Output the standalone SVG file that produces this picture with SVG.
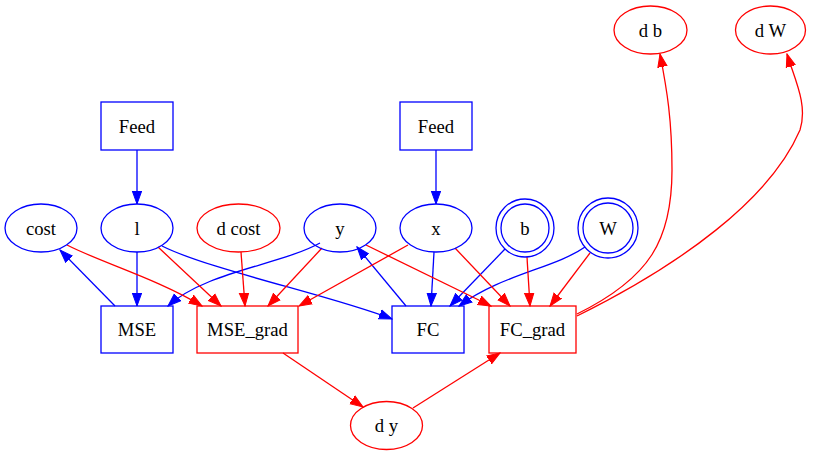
<svg xmlns="http://www.w3.org/2000/svg" width="813" height="455" viewBox="0 0 813 455">
<style>
text{font-family:"Liberation Serif","Times New Roman",serif;font-size:18.67px;fill:#000;text-anchor:middle}
.b{fill:none;stroke:#0000ff;stroke-width:1.3}
.r{fill:none;stroke:#ff0000;stroke-width:1.3}
.eb{fill:none;stroke:#0000ff;stroke-width:1.3;marker-end:url(#ab)}
.er{fill:none;stroke:#ff0000;stroke-width:1.3;marker-end:url(#ar)}
</style>
<defs>
<marker id="ab" markerUnits="userSpaceOnUse" markerWidth="14" markerHeight="12" viewBox="0 -6 14 12" refX="13" refY="0" orient="auto"><path d="M0,-4.7 L13,0 L0,4.7 z" fill="#0000ff" stroke="#0000ff"/></marker>
<marker id="ar" markerUnits="userSpaceOnUse" markerWidth="14" markerHeight="12" viewBox="0 -6 14 12" refX="13" refY="0" orient="auto"><path d="M0,-4.7 L13,0 L0,4.7 z" fill="#ff0000" stroke="#ff0000"/></marker>
</defs>
<rect width="813" height="455" fill="#fff"/>
<g id="edges">
<path class="eb" d="M137,150 L137,204"/>
<path class="eb" d="M436,150 L436,204"/>
<path class="eb" d="M115,306 L60,250"/>
<path class="eb" d="M137,252 L137,306"/>
<path class="eb" d="M320,243 C280,265 205,272 168,306"/>
<path class="eb" d="M162,246 C210,270 330,295 392,319"/>
<path class="eb" d="M406,306 L357,247"/>
<path class="eb" d="M434,252 L431,306"/>
<path class="eb" d="M505,249 L450,306"/>
<path class="eb" d="M585,247 C555,268 500,275 459,306"/>
<path class="er" d="M67,245 C100,262 160,280 202,306"/>
<path class="er" d="M158,247 L221,306"/>
<path class="er" d="M241,252 L245,306"/>
<path class="er" d="M322,248 L268,306"/>
<path class="er" d="M408,245 L299,306"/>
<path class="er" d="M366,245 L491,306"/>
<path class="er" d="M455,248 L510,306"/>
<path class="er" d="M527,257 L530,306"/>
<path class="er" d="M590,253 L550,306"/>
<path class="er" d="M283,353 L363,407"/>
<path class="er" d="M413,408 L500,353"/>
<path class="er" d="M577,314 C650,278 672,240 672,170 C672,120 667,90 660,54"/>
<path class="er" d="M577,316 C680,265 770,200 800,130 C808,105 795,80 787,54"/>
</g>
<g id="feed1"><rect class="b" x="101" y="102" width="72" height="48"/><text x="137" y="132.5">Feed</text></g>
<g id="feed2"><rect class="b" x="400" y="102" width="72" height="48"/><text x="436" y="132.5">Feed</text></g>
<g id="cost"><ellipse class="b" cx="41" cy="228" rx="36" ry="24"/><text x="41" y="234.5">cost</text></g>
<g id="l"><ellipse class="b" cx="137" cy="228" rx="36" ry="24"/><text x="137" y="234.5">l</text></g>
<g id="dcost"><ellipse class="r" cx="238.5" cy="228" rx="41.5" ry="24"/><text x="238.5" y="234.5">d cost</text></g>
<g id="y"><ellipse class="b" cx="340" cy="228" rx="36" ry="24"/><text x="340" y="234.5">y</text></g>
<g id="x"><ellipse class="b" cx="436" cy="228" rx="36" ry="24"/><text x="436" y="234.5">x</text></g>
<g id="b"><circle class="b" cx="525" cy="228" r="29"/><circle class="b" cx="525" cy="228" r="24"/><text x="525" y="234.5">b</text></g>
<g id="W"><circle class="b" cx="608" cy="228" r="30"/><circle class="b" cx="608" cy="228" r="25"/><text x="608" y="234.5">W</text></g>
<g id="db"><ellipse class="r" cx="650.5" cy="30" rx="36.5" ry="24"/><text x="650.5" y="36.5">d b</text></g>
<g id="dW"><ellipse class="r" cx="770.5" cy="30" rx="35" ry="24"/><text x="770.5" y="36.5">d W</text></g>
<g id="MSE"><rect class="b" x="101" y="306" width="72" height="47"/><text x="137" y="336">MSE</text></g>
<g id="MSE_grad"><rect class="r" x="197" y="306" width="101" height="47"/><text x="247.5" y="336">MSE_grad</text></g>
<g id="FC"><rect class="b" x="392" y="306" width="72" height="47"/><text x="428" y="336">FC</text></g>
<g id="FC_grad"><rect class="r" x="489" y="306" width="87" height="47"/><text x="532.5" y="336">FC_grad</text></g>
<g id="dy"><ellipse class="r" cx="386.5" cy="425.5" rx="36" ry="24"/><text x="386.5" y="432">d y</text></g>
</svg>
